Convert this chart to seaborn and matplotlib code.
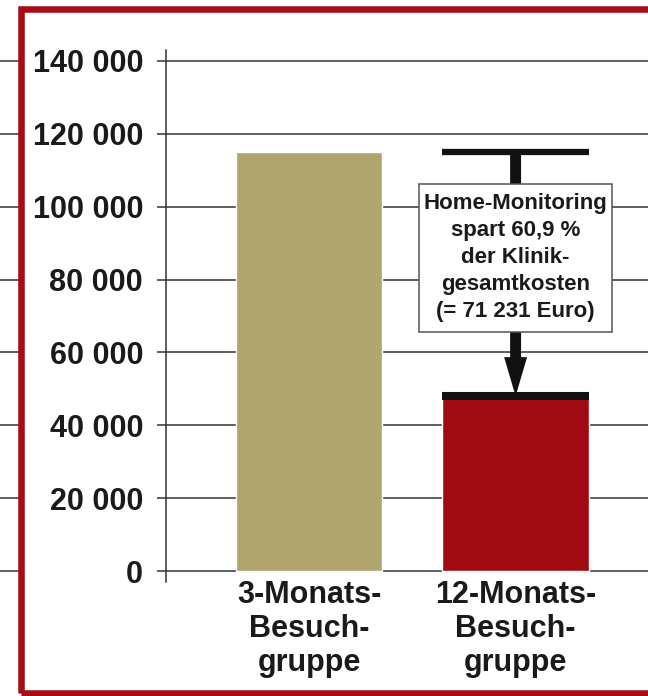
import matplotlib
matplotlib.use("Agg")
import matplotlib.pyplot as plt
import matplotlib.transforms as mtransforms
from matplotlib.patches import Rectangle
from matplotlib.ticker import FuncFormatter
import seaborn as sns

# Clinic total costs (Euro) per follow-up group
groups = ["3-Monats-\nBesuch-\ngruppe", "12-Monats-\nBesuch-\ngruppe"]
costs = [115000, 48000]
bar_colors = ["#B0A46F", "#A00B12"]
yticks = [0, 20000, 40000, 60000, 80000, 100000, 120000, 140000]
note = "Home-Monitoring\nspart 60,9 %\nder Klinik-\ngesamtkosten\n(= 71 231 Euro)"

sns.set_theme(style="white")
plt.rcParams["font.family"] = ["Liberation Sans", "DejaVu Sans"]
plt.rcParams["font.weight"] = "bold"

W, H = 648, 696
fig = plt.figure(figsize=(W / 100, H / 100), dpi=100)
ax = fig.add_axes([166 / W, 114 / H, 1 - 166 / W, (582 - 50) / H])

sns.barplot(x=groups, y=costs, hue=groups, palette=bar_colors, saturation=1,
            width=0.71, legend=False, ax=ax, zorder=2)

ax.set_ylim(-3000, 143000)
ax.set_xlim(-0.6925, 1.641)
ax.set_yticks(yticks)
ax.yaxis.set_major_formatter(FuncFormatter(lambda v, p: f"{int(v):,}".replace(",", " ")))
ax.set_xlabel("")
ax.set_ylabel("")

ink = "#333333"
ax.grid(axis="y", color=ink, lw=1.1)
ax.grid(axis="x", visible=False)
ax.set_axisbelow(True)
for side in ("top", "right", "bottom"):
    ax.spines[side].set_visible(False)
ax.spines["left"].set_color(ink)
ax.spines["left"].set_linewidth(1.1)
ax.tick_params(axis="y", left=True, length=6.5, width=1.1, color=ink, pad=10,
               labelsize=22, labelcolor="#1a1a1a")
ax.tick_params(axis="x", bottom=False, length=0, pad=-1.5, labelsize=22,
               labelcolor="#1a1a1a")
for lab in ax.get_xticklabels():
    lab.set_linespacing(1.17)

# short grid stubs left of the frame
trans = mtransforms.blended_transform_factory(fig.transFigure, ax.transData)
for t in yticks:
    ax.plot([0, 0.035], [t, t], transform=trans, color=ink, lw=1.1,
            clip_on=False, zorder=1)

# savings marker: T-bar at the 3-month level, arrow down to the 12-month level
x2 = 1
half = 0.355
ax.hlines(costs[0], x2 - half, x2 + half, color="#111111", lw=4.5, zorder=3)
ax.hlines(costs[1], x2 - half, x2 + half, color="#111111", lw=5.8, zorder=3)
ax.arrow(x2, costs[0], 0, costs[1] - costs[0], width=0.053, head_width=0.111,
         head_length=10700, length_includes_head=True, color="#111111",
         lw=0, zorder=3)
label = ax.text(x2, 86000, note, ha="center", va="center", fontsize=16,
                linespacing=1.37, color="#1a1a1a", zorder=5)

# white callout box around the note, padded more vertically than horizontally
fig.canvas.draw()
bb = label.get_window_extent(fig.canvas.get_renderer())
padx, pady = 5, 9.5
box = Rectangle(((bb.x0 - padx) / W, (bb.y0 - pady) / H),
                (bb.width + 2 * padx) / W, (bb.height + 2 * pady) / H,
                transform=fig.transFigure, fc="white", ec="#555555", lw=1.1,
                zorder=4)
ax.add_artist(box)

# red frame
frame = Rectangle((21 / W, 3.5 / H), 1.2, 684 / H, transform=fig.transFigure,
                  fill=False, ec="#A50E16", lw=4.7, zorder=10)
fig.add_artist(frame)

fig.savefig("out.png", dpi=100)
